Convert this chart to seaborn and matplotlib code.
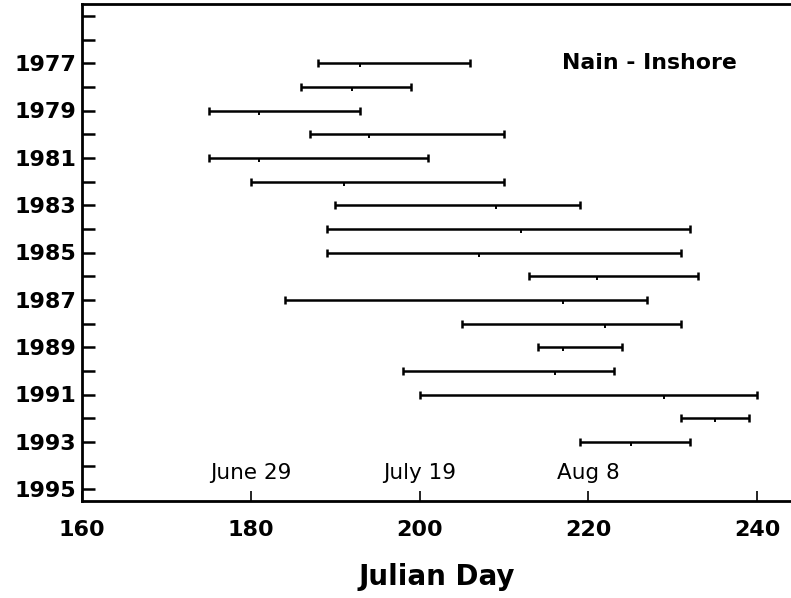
import matplotlib
matplotlib.use("Agg")
import matplotlib.pyplot as plt
import seaborn as sns
import pandas as pd

years = [1977, 1978, 1979, 1980, 1981, 1982, 1983, 1984, 1985,
         1986, 1987, 1988, 1989, 1990, 1991, 1992, 1993]
start_day = [188, 186, 175, 187, 175, 180, 190, 189, 189,
             213, 184, 205, 214, 198, 200, 231, 219]
mid_day = [193, 192, 181, 194, 181, 191, 209, 212, 207,
           221, 217, 222, 217, 216, 229, 235, 225]
end_day = [206, 199, 193, 210, 201, 210, 219, 232, 231,
           233, 227, 231, 224, 223, 240, 239, 232]

date_days = [180, 200, 220]
date_labels = ["June 29", "July 19", "Aug 8"]
title_text = "Nain - Inshore"

df = pd.DataFrame({"year": years, "start": start_day, "mid": mid_day, "end": end_day})

sns.set_style("ticks", {"axes.edgecolor": "black", "text.color": "black",
                        "xtick.color": "black", "ytick.color": "black",
                        "axes.labelcolor": "black"})
plt.rcParams["font.family"] = ["DejaVu Sans"]

fig = plt.figure(figsize=(7.91, 5.98), dpi=100)
ax = fig.add_axes([82 / 791, 1 - 501 / 598, 1 - 82 / 791, 497 / 598])

xerr = [df["mid"] - df["start"], df["end"] - df["mid"]]
ax.errorbar(df["mid"], df["year"], xerr=xerr, fmt="none", ecolor="black",
            elinewidth=1.8, capsize=2.8, capthick=1.8)
sns.scatterplot(data=df, x="mid", y="year", marker=3, s=9, color="black",
                linewidth=1.4, ax=ax, legend=False)

ax.set_xlim(160, 160 + (791 - 83.6) / 8.42)
ax.set_ylim(1995.5, 1974.5)
ax.set_xticks([160, 180, 200, 220, 240])
ax.set_yticks(range(1975, 1996))
ax.set_yticklabels([str(y) if y % 2 == 1 and y >= 1977 else "" for y in range(1975, 1996)])
ax.tick_params(axis="y", direction="in", length=9, width=1.8, labelsize=16, pad=4,
               colors="black")
ax.tick_params(axis="x", direction="in", length=7, width=1.2, labelsize=16, pad=14,
               colors="black")
for lab in ax.get_xticklabels() + ax.get_yticklabels():
    lab.set_fontweight("bold")

for sp in ["left", "bottom", "top"]:
    ax.spines[sp].set_linewidth(2)
    ax.spines[sp].set_color("black")
ax.spines["right"].set_visible(False)

for d, t in zip(date_days, date_labels):
    ax.text(d, 1994.3, t, ha="center", va="center", fontsize=15.5, color="black")

ax.text(227.2, 1977, title_text, ha="center", va="center", fontsize=15.8,
        fontweight="bold", color="black")

ax.set_xlabel("Julian Day", fontsize=20, fontweight="bold", labelpad=16, color="black")
ax.set_ylabel("")

fig.savefig("out.png", dpi=100)
